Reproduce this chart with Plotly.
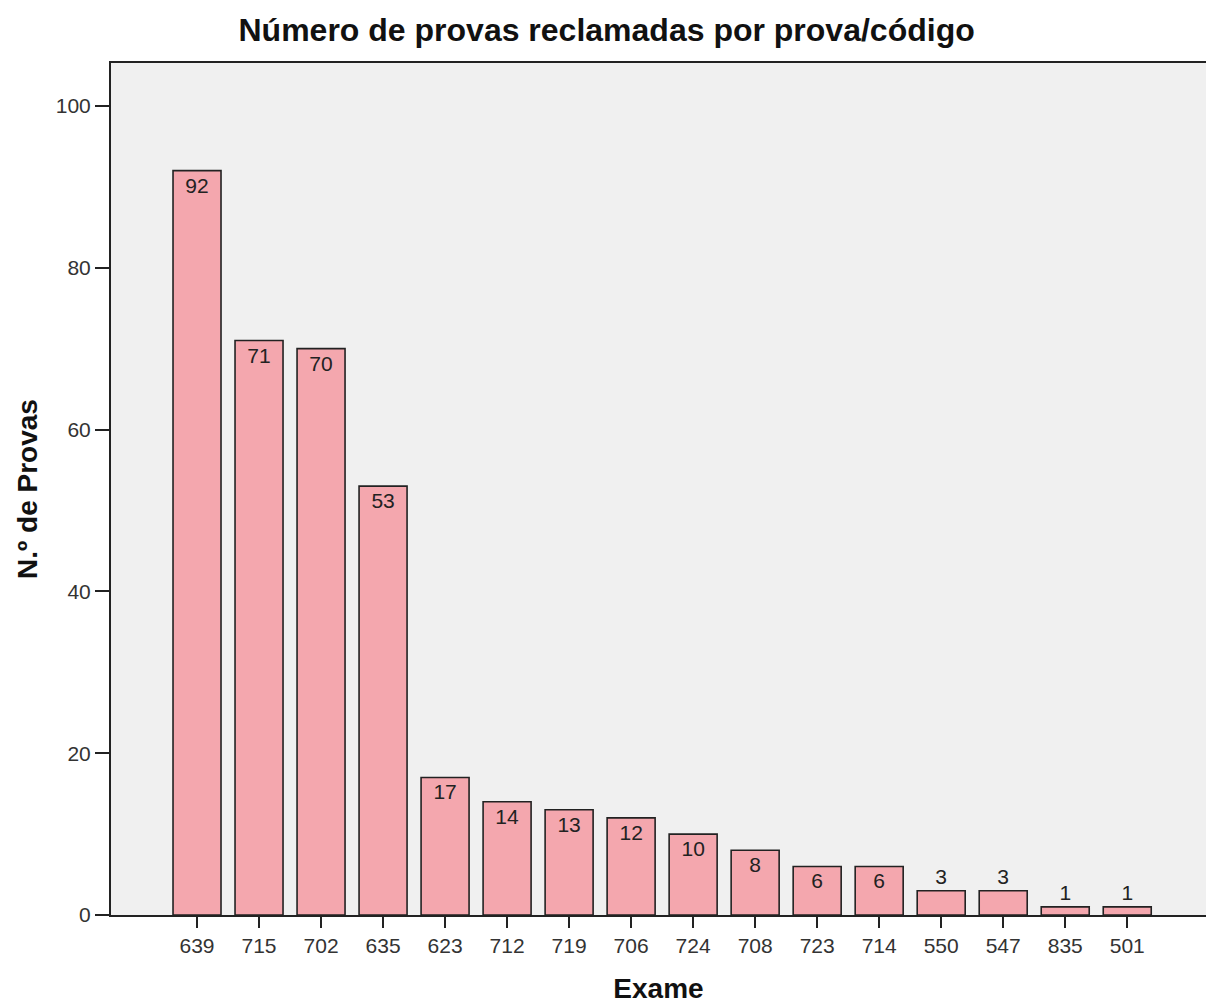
import plotly.graph_objects as go

# Exam codes and number of contested exams per code
exames = ["639", "715", "702", "635", "623", "712", "719", "706",
          "724", "708", "723", "714", "550", "547", "835", "501"]
provas = [92, 71, 70, 53, 17, 14, 13, 12, 10, 8, 6, 6, 3, 3, 1, 1]

positions = ["inside" if v >= 5 else "outside" for v in provas]

FONT = "Liberation Sans, Arial, sans-serif"

fig = go.Figure()
fig.add_trace(go.Bar(
    x=exames,
    y=provas,
    width=0.774,
    marker=dict(color="#f4a7ae", line=dict(color="#222222", width=1.6)),
    text=[str(v) for v in provas],
    textposition=positions,
    insidetextanchor="end",
    textfont=dict(family=FONT, size=21, color="#222222"),
    constraintext="none",
    cliponaxis=False,
))

fig.update_layout(
    width=1206,
    height=1004,
    margin=dict(l=111, r=0, t=63, b=89),
    paper_bgcolor="white",
    plot_bgcolor="#f0f0f0",
    showlegend=False,
    font=dict(family=FONT, color="#222222"),
    title=dict(
        text="<b>Número de provas reclamadas por prova/código</b>",
        x=0.503, xanchor="center", y=0.97, yanchor="middle",
        font=dict(size=32, color="#111111"),
    ),
    bargap=0.2,
)

fig.update_xaxes(
    type="category",
    range=[-1.387, 16.27],
    showline=True, linecolor="#222222", linewidth=2, mirror=True,
    ticks="outside", ticklen=11, tickwidth=2, tickcolor="#222222",
    tickfont=dict(size=21, color="#333333"),
    showgrid=False,
    title=dict(text="<b>Exame</b>", font=dict(size=28, color="#111111"), standoff=26),
)

fig.update_yaxes(
    range=[0, 105.3],
    tickvals=[0, 20, 40, 60, 80, 100],
    showline=True, linecolor="#222222", linewidth=2,
    ticks="outside", ticklen=14, tickwidth=2, tickcolor="#222222",
    tickfont=dict(size=21, color="#333333"),
    showgrid=False, zeroline=False,
    title=dict(text="<b>N.º de Provas</b>", font=dict(size=28, color="#111111"), standoff=10),
)

fig.write_html("out.html")
